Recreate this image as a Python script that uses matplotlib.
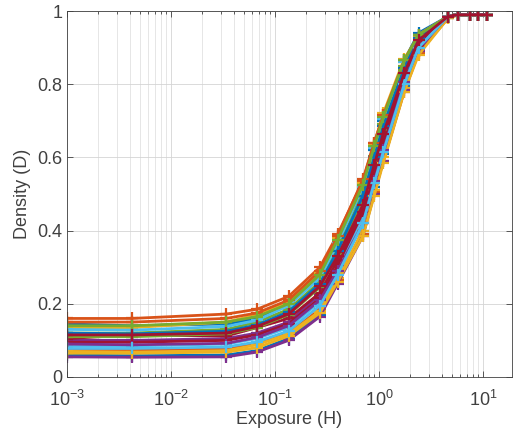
import matplotlib.pyplot as plt
from matplotlib.ticker import LogLocator, NullFormatter

### Dados

exposure = [0.001, 0.0042, 0.034, 0.067, 0.135, 0.27, 0.40, 0.70, 0.90, 1.1,
            1.75, 2.4, 4.6, 5.8, 7.5, 8.9, 10.9]

density_curves = [
    [0.145, 0.140, 0.145, 0.160, 0.200, 0.270, 0.370, 0.515, 0.620, 0.700, 0.865, 0.940, 0.985, 0.990, 0.990, 0.990, 0.990],
    [0.160, 0.160, 0.172, 0.185, 0.220, 0.300, 0.390, 0.535, 0.640, 0.715, 0.860, 0.935, 0.985, 0.990, 0.990, 0.990, 0.990],
    [0.135, 0.135, 0.150, 0.170, 0.205, 0.285, 0.380, 0.530, 0.635, 0.720, 0.870, 0.930, 0.985, 0.990, 0.990, 0.990, 0.990],
    [0.100, 0.100, 0.105, 0.120, 0.150, 0.225, 0.310, 0.450, 0.560, 0.650, 0.820, 0.915, 0.985, 0.990, 0.990, 0.990, 0.990],
    [0.120, 0.120, 0.130, 0.150, 0.185, 0.260, 0.350, 0.500, 0.605, 0.690, 0.850, 0.925, 0.985, 0.990, 0.990, 0.990, 0.990],
    [0.085, 0.085, 0.090, 0.105, 0.135, 0.205, 0.295, 0.440, 0.555, 0.640, 0.815, 0.910, 0.985, 0.990, 0.990, 0.990, 0.990],
    [0.105, 0.115, 0.112, 0.135, 0.160, 0.230, 0.320, 0.460, 0.560, 0.650, 0.820, 0.915, 0.985, 0.990, 0.990, 0.990, 0.990],
    [0.060, 0.058, 0.060, 0.072, 0.105, 0.170, 0.260, 0.400, 0.520, 0.610, 0.795, 0.895, 0.985, 0.990, 0.990, 0.990, 0.990],
    [0.075, 0.073, 0.078, 0.090, 0.120, 0.185, 0.265, 0.390, 0.505, 0.590, 0.780, 0.885, 0.980, 0.990, 0.990, 0.990, 0.990],
    [0.070, 0.068, 0.072, 0.088, 0.118, 0.180, 0.270, 0.400, 0.510, 0.600, 0.790, 0.890, 0.980, 0.990, 0.990, 0.990, 0.990],
    [0.055, 0.054, 0.055, 0.068, 0.100, 0.165, 0.255, 0.385, 0.500, 0.590, 0.785, 0.890, 0.985, 0.990, 0.990, 0.990, 0.990],
    [0.110, 0.110, 0.118, 0.135, 0.170, 0.245, 0.335, 0.480, 0.590, 0.675, 0.840, 0.925, 0.985, 0.990, 0.990, 0.990, 0.990],
    [0.130, 0.128, 0.138, 0.155, 0.195, 0.270, 0.365, 0.520, 0.625, 0.705, 0.860, 0.935, 0.985, 0.990, 0.990, 0.990, 0.990],
    [0.095, 0.095, 0.100, 0.115, 0.145, 0.215, 0.305, 0.450, 0.550, 0.635, 0.810, 0.905, 0.985, 0.990, 0.990, 0.990, 0.990],
    [0.120, 0.118, 0.125, 0.142, 0.178, 0.255, 0.345, 0.495, 0.600, 0.685, 0.845, 0.925, 0.985, 0.990, 0.990, 0.990, 0.990],
    [0.150, 0.150, 0.160, 0.175, 0.210, 0.290, 0.385, 0.540, 0.640, 0.715, 0.865, 0.935, 0.985, 0.990, 0.990, 0.990, 0.990],
    [0.065, 0.065, 0.068, 0.080, 0.112, 0.175, 0.260, 0.385, 0.495, 0.585, 0.780, 0.880, 0.980, 0.990, 0.990, 0.990, 0.990],
    [0.090, 0.088, 0.092, 0.108, 0.140, 0.210, 0.290, 0.420, 0.535, 0.620, 0.805, 0.900, 0.985, 0.990, 0.990, 0.990, 0.990],
    [0.140, 0.140, 0.150, 0.165, 0.200, 0.280, 0.375, 0.525, 0.630, 0.710, 0.865, 0.935, 0.985, 0.990, 0.990, 0.990, 0.990],
    [0.078, 0.078, 0.082, 0.096, 0.126, 0.195, 0.280, 0.420, 0.530, 0.615, 0.800, 0.900, 0.985, 0.990, 0.990, 0.990, 0.990],
    [0.115, 0.115, 0.120, 0.138, 0.172, 0.248, 0.330, 0.470, 0.580, 0.665, 0.830, 0.920, 0.985, 0.990, 0.990, 0.990, 0.990],
]

# cores padrão do MATLAB
matlab_colors = ['#0072BD', '#D95319', '#EDB120', '#7E2F8E',
                 '#77AC30', '#4DBEEE', '#A2142F']

y_ticks = [0, 0.2, 0.4, 0.6, 0.8, 1]
y_tick_labels = ['0', '0.2', '0.4', '0.6', '0.8', '1']

### Gráfico

plt.rcParams['font.family'] = ['Liberation Sans', 'DejaVu Sans']
plt.rcParams['mathtext.fontset'] = 'custom'
plt.rcParams['mathtext.rm'] = 'Liberation Sans'

fig = plt.figure(figsize=(5.13, 4.37), dpi=100)
ax = fig.add_axes([0.1306, 0.1373, 0.8674, 0.8375])

for i, curve in enumerate(density_curves):
    ax.plot(exposure, curve, '-+', color=matlab_colors[i % 7],
            linewidth=2, markersize=8, markeredgewidth=1.6)

ax.set_xscale('log')
ax.set_xlim(1e-3, 19)
ax.set_ylim(0, 1)
ax.set_yticks(y_ticks)
ax.set_yticklabels(y_tick_labels)
ax.xaxis.set_major_locator(LogLocator(base=10, numticks=10))
ax.xaxis.set_minor_locator(LogLocator(base=10, subs=range(2, 10), numticks=50))
ax.xaxis.set_minor_formatter(NullFormatter())

ax.grid(True, which='major', color='#d4d4d4', linewidth=0.6)
ax.grid(True, which='minor', axis='x', color='#e2e2e2', linewidth=0.6)
ax.set_axisbelow(True)

text_color = '#404040'
for s in ax.spines.values():
    s.set_color('#404040')
    s.set_linewidth(0.6)
ax.tick_params(which='both', direction='in', top=True, right=True,
               colors=text_color, labelsize=13, width=0.6)
ax.tick_params(axis='x', which='both', pad=9)
ax.tick_params(which='major', length=4)
ax.tick_params(which='minor', length=2.5)

ax.set_xlabel('Exposure (H)', fontsize=13, color=text_color, labelpad=1)
ax.set_ylabel('Density (D)', fontsize=13, color=text_color, labelpad=4)

fig.savefig('out.png', dpi=100)
